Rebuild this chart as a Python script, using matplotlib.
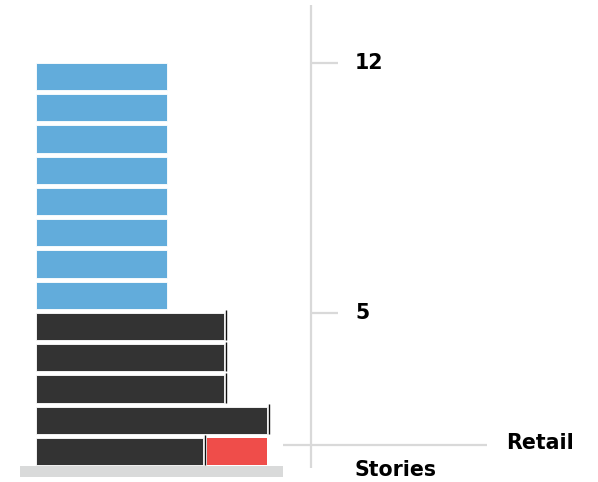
import matplotlib.pyplot as plt

# floors from ground (0) to top (12)
floors = list(range(13))
widths = [167, 231, 188, 188, 188, 131, 131, 131, 131, 131, 131, 131, 131]
uses = ['dark', 'dark', 'dark', 'dark', 'dark',
        'blue', 'blue', 'blue', 'blue', 'blue', 'blue', 'blue', 'blue']
retail_width = 60
story_labels = ['5', '12']
story_floors = [4, 12]

colors = {'dark': '#333333', 'blue': '#62acdb'}
red = '#ef4d4a'
line_gray = '#d9d9d9'

plt.rcParams['font.family'] = ['DejaVu Sans']

fig = plt.figure(figsize=(5.98, 4.82), dpi=100)
ax = fig.add_axes([0, 0, 1, 1])
ax.set_xlim(0, 598)
ax.set_ylim(-0.976, 14.448)
ax.axis('off')

bar_h = 0.87
x0 = 36

# base slab
ax.barh(-0.64, 263, height=0.35, left=20, color='#d9dada')

# floors
ax.barh(floors, widths, height=bar_h, left=x0,
        color=[colors[u] for u in uses], edgecolor='white', linewidth=0.6)
for f, w, u in zip(floors, widths, uses):
    if u == 'dark':
        ax.vlines(x0 + w + 1.5, f - bar_h / 2, f + bar_h / 2 + 0.08,
                  color='#111111', lw=1)

# retail unit on the ground floor
ax.barh(0, retail_width, height=bar_h, left=x0 + widths[0] + 4, color=red)

# stories scale
ax.vlines(311, -0.53, 14.28, color=line_gray, lw=1.6)
for lab, f in zip(story_labels, story_floors):
    y = f + bar_h / 2
    ax.hlines(y, 311, 338, color=line_gray, lw=1.6)
    ax.text(355, y, lab, fontsize=14.8, fontweight='bold', va='center', ha='left')

ax.text(355, -0.6, 'Stories', fontsize=14.8, fontweight='bold', va='center', ha='left')

# retail marker
ax.hlines(0.21, 283, 487, color=line_gray, lw=1.6)
ax.text(506, 0.27, 'Retail', fontsize=14.8, fontweight='bold', va='center', ha='left')

fig.savefig('out.png', dpi=100)
